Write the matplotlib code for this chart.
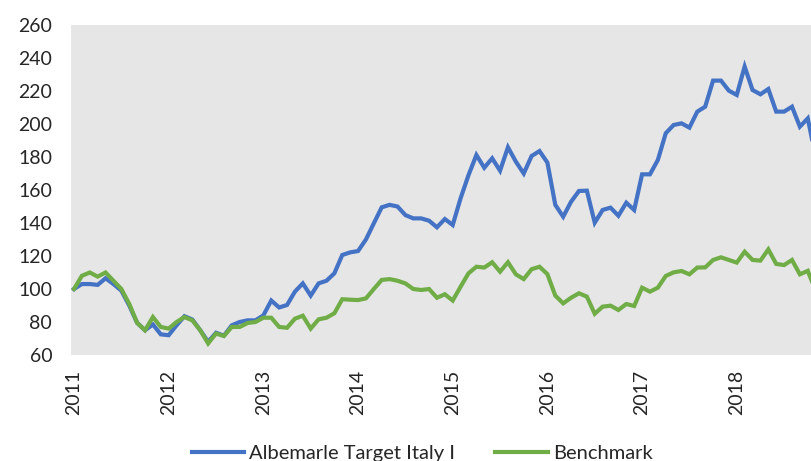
import matplotlib
matplotlib.use("Agg")
import matplotlib.pyplot as plt
import numpy as np

years = ["2011", "2012", "2013", "2014", "2015", "2016", "2017", "2018"]
series_names = ["Albemarle Target Italy I", "Benchmark"]

# Monthly values, Jan 2011 onwards
albemarle = [
    100, 103, 103, 102.5, 106.5, 103, 99, 90, 79.5, 75, 78.5, 72.5,
    72, 78, 83.5, 81.5, 75, 68, 73.5, 71.7, 78, 80, 81, 81,
    84, 93, 88.8, 90.3, 98.4, 103.4, 96, 103.4, 105, 109.5, 120.6, 122.2,
    123, 130, 139.8, 149.5, 151, 150, 144.8, 142.8, 142.8, 141.4, 137.4, 142.4,
    138.8, 155, 169, 181.2, 173.5, 179.2, 171.7, 185.9, 177.2, 170, 180.6, 183.6,
    176.6, 151, 143.8, 152.9, 159.4, 159.6, 140.2, 147.9, 149.3, 144.4, 152.3, 147.9,
    169.5, 169.5, 178.2, 194.4, 199.4, 200.4, 197.8, 207.5, 210.5, 226.3, 226.3, 220.2,
    217.6, 234.8, 220.6, 218, 221.2, 207.5, 207.5, 210.5, 198.4, 203.4, 180,
]
benchmark = [
    100, 108, 110, 107.5, 110, 105, 100, 91, 79.5, 75, 83, 77,
    76, 80, 83, 81, 75, 67, 73, 71.5, 77, 77, 79.4, 80,
    82.6, 82.6, 77, 76.5, 82, 83.8, 76, 81.6, 82.6, 85.3, 93.8, 93.5,
    93.3, 94.3, 100, 105.5, 106, 105, 103.4, 100, 99.4, 100, 94.7, 96.8,
    93, 101.4, 109.5, 113.5, 113, 116.2, 110.5, 116.2, 108.9, 106, 112, 113.5,
    109, 96, 91.3, 94.7, 97.4, 95.4, 85, 89.3, 89.9, 87.3, 90.9, 89.7,
    100.8, 98.4, 100.8, 107.9, 110.1, 110.9, 108.9, 113, 113.1, 117.6, 119.2, 117.6,
    116, 122.6, 117.6, 117.2, 124, 115.2, 114.5, 117.6, 108.9, 111, 99,
]

plt.rcParams['font.family'] = ['Lato', 'DejaVu Sans']

fig = plt.figure(figsize=(8.11, 4.61), dpi=100)
ax = fig.add_axes([71/811, 1-355/461, 1-71/811, (355-25)/461])
ax.set_facecolor('#e6e6e6')

x = np.arange(len(albemarle))
ax.plot(x, albemarle, color='#4472c4', lw=3, label=series_names[0], solid_joinstyle='miter')
ax.plot(x, benchmark, color='#70ad47', lw=3, label=series_names[1], solid_joinstyle='miter')

ax.set_ylim(60, 260)
ax.set_yticks(np.arange(60, 261, 20))
ax.set_xlim(-0.38, 93.41)
ax.set_xticks(np.arange(len(years)) * 12)
ax.set_xticklabels(years, rotation=90)

for s in ax.spines.values():
    s.set_visible(False)
ax.tick_params(axis='both', length=0, labelsize=14, colors='#262626')
ax.tick_params(axis='y', pad=13.5)
ax.tick_params(axis='x', pad=10.5)

fig.legend(loc='center', bbox_to_anchor=(422/811, 1-453/461), ncol=2, frameon=False,
           fontsize=14.5, handlelength=2.6, columnspacing=2.0, handletextpad=0.25,
           labelcolor='#262626')

fig.savefig('out.png', dpi=100)
